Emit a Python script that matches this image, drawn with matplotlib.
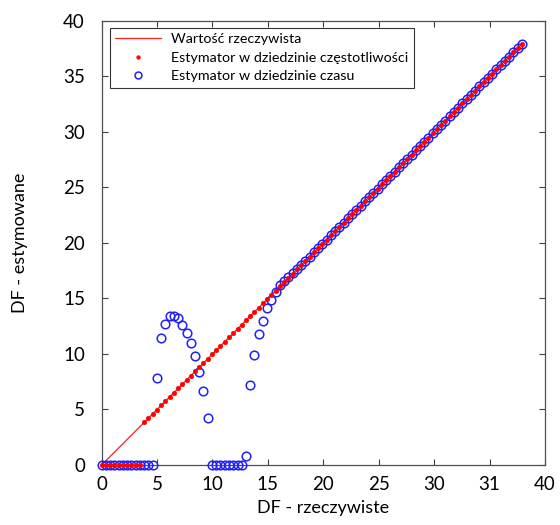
import matplotlib
matplotlib.use("Agg")
import matplotlib.pyplot as plt

true_df = [0.00, 0.38, 0.77, 1.15, 1.53, 1.92, 2.30, 2.68, 3.06, 3.45,
           3.83, 4.21, 4.60, 4.98, 5.36, 5.75, 6.13, 6.51, 6.89, 7.28,
           7.66, 8.04, 8.43, 8.81, 9.19, 9.58, 9.96, 10.34, 10.72, 11.11,
           11.49, 11.87, 12.26, 12.64, 13.02, 13.41, 13.79, 14.17, 14.55, 14.94,
           15.32, 15.70, 16.09, 16.47, 16.85, 17.24, 17.62, 18.00, 18.38, 18.77,
           19.15, 19.53, 19.92, 20.30, 20.68, 21.07, 21.45, 21.83, 22.21, 22.60,
           22.98, 23.36, 23.75, 24.13, 24.51, 24.90, 25.28, 25.66, 26.04, 26.43,
           26.81, 27.19, 27.58, 27.96, 28.34, 28.73, 29.11, 29.49, 29.87, 30.26,
           30.64, 31.02, 31.41, 31.79, 32.17, 32.56, 32.94, 33.32, 33.70, 34.09,
           34.47, 34.85, 35.24, 35.62, 36.00, 36.39, 36.77, 37.15, 37.53, 37.92]

freq_est = [0.00, 0.00, 0.00, 0.00, 0.00, 0.00, 0.00, 0.00, 0.00, 0.00,
            3.83, 4.21, 4.60, 4.98, 5.36, 5.75, 6.13, 6.51, 6.89, 7.28,
            7.66, 8.04, 8.43, 8.81, 9.19, 9.58, 9.96, 10.34, 10.72, 11.11,
            11.49, 11.87, 12.26, 12.64, 13.02, 13.41, 13.79, 14.17, 14.55, 14.94,
            15.32, 15.70, 16.09, 16.47, 16.85, 17.24, 17.62, 18.00, 18.38, 18.77,
            19.15, 19.53, 19.92, 20.30, 20.68, 21.07, 21.45, 21.83, 22.21, 22.60,
            22.98, 23.36, 23.75, 24.13, 24.51, 24.90, 25.28, 25.66, 26.04, 26.43,
            26.81, 27.19, 27.58, 27.96, 28.34, 28.73, 29.11, 29.49, 29.87, 30.26,
            30.64, 31.02, 31.41, 31.79, 32.17, 32.56, 32.94, 33.32, 33.70, 34.09,
            34.47, 34.85, 35.24, 35.62, 36.00, 36.39, 36.77, 37.15, 37.53, 37.92]

time_est = [0.00, 0.00, 0.00, 0.00, 0.00, 0.00, 0.00, 0.00, 0.00, 0.00,
            0.00, 0.00, 0.00, 7.80, 11.40, 12.70, 13.40, 13.40, 13.20, 12.60,
            11.90, 10.95, 9.80, 8.40, 6.70, 4.20, 0.00, 0.00, 0.00, 0.00,
            0.00, 0.00, 0.00, 0.00, 0.80, 7.20, 9.90, 11.80, 13.00, 14.10,
            14.90, 15.60, 16.20, 16.60, 16.95, 17.30, 17.65, 18.00, 18.38, 18.77,
            19.15, 19.53, 19.92, 20.30, 20.68, 21.07, 21.45, 21.83, 22.21, 22.60,
            22.98, 23.36, 23.75, 24.13, 24.51, 24.90, 25.28, 25.66, 26.04, 26.43,
            26.81, 27.19, 27.58, 27.96, 28.34, 28.73, 29.11, 29.49, 29.87, 30.26,
            30.64, 31.02, 31.41, 31.79, 32.17, 32.56, 32.94, 33.32, 33.70, 34.09,
            34.47, 34.85, 35.24, 35.62, 36.00, 36.39, 36.77, 37.15, 37.53, 37.92]

xtick_vals = [0, 5, 10, 15, 20, 25, 30, 35, 40]
xtick_labels = ["0", "5", "10", "15", "20", "25", "30", "31", "40"]
ytick_vals = [0, 5, 10, 15, 20, 25, 30, 35, 40]

labels = ["Wartość rzeczywista",
          "Estymator w dziedzinie częstotliwości",
          "Estymator w dziedzinie czasu"]

plt.rcParams['font.family'] = ['Lato', 'DejaVu Sans']

fig = plt.figure(figsize=(5.6, 5.25), dpi=100)
ax = fig.add_axes([0.1815, 0.1143, 0.7916, 0.846])

ax.plot(true_df, true_df, color='#ff2020', lw=0.9, label=labels[0], zorder=2)
ax.plot(true_df, time_est, linestyle='none', marker='o', ms=6.2,
        mfc='none', mec='#2020ff', mew=1.1, label=labels[2],
        clip_on=False, zorder=3)
ax.plot(true_df, freq_est, linestyle='none', marker='o', ms=3.4,
        mfc='#ff0000', mec='#ff0000', mew=0.3, label=labels[1],
        clip_on=False, zorder=4)

ax.set_xlim(0, 40)
ax.set_ylim(0, 40)
ax.set_xticks(xtick_vals)
ax.set_xticklabels(xtick_labels)
ax.set_yticks(ytick_vals)
ax.tick_params(direction='in', top=True, right=True, length=4, width=0.8,
               labelsize=13.5, color='#404040')
ax.tick_params(axis='x', pad=8)
ax.tick_params(axis='y', pad=12)
for s in ax.spines.values():
    s.set_color('#505050')
    s.set_linewidth(0.9)

ax.set_xlabel("DF - rzeczywiste", fontsize=13, labelpad=5)
ax.set_ylabel("DF - estymowane", fontsize=13, labelpad=25)

h, l = ax.get_legend_handles_labels()
order = [0, 2, 1]
leg = ax.legend([h[i] for i in order], [l[i] for i in order],
                loc='upper left', bbox_to_anchor=(0.018, 0.985),
                fontsize=10.3, frameon=True, fancybox=False,
                handlelength=3.2, handletextpad=0.7, borderpad=0.4,
                labelspacing=0.45, borderaxespad=0.0, markerscale=0.8)
leg.get_frame().set_edgecolor('black')
leg.get_frame().set_linewidth(0.8)

fig.savefig("out.png", dpi=100)
